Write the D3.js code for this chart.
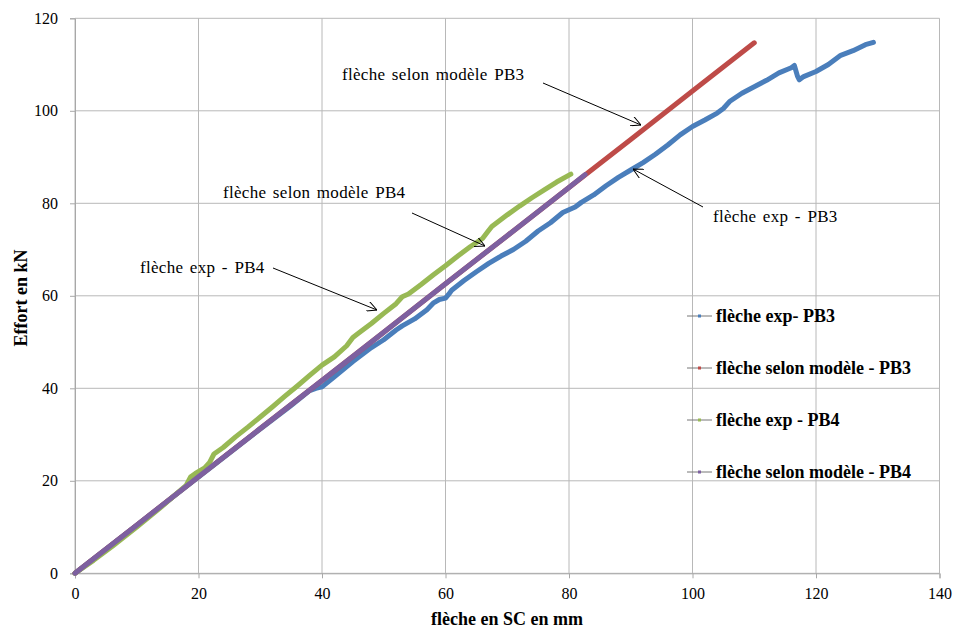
<!DOCTYPE html>
<html><head><meta charset="utf-8">
<script src="https://cdn.jsdelivr.net/npm/d3@7"></script>
<style>body{margin:0;background:#fff}svg{display:block}</style>
</head><body><svg id="c" width="954" height="629"></svg>
<script>
const xTicks=[0,20,40,60,80,100,120,140];
const yTicks=[0,20,40,60,80,100,120];
const seriesNames=["flèche exp- PB3","flèche selon modèle - PB3","flèche exp - PB4","flèche selon modèle - PB4"];
const seriesColors=["#4a7ebb","#be4b48","#98b954","#7d60a0"];
const expPB3=[[0,0],[5,5.2],[10,10.4],[15,15.6],[20,20.8],[25,26],[30,31.2],[35,36.3],[38,39.5],[39,40],[40,40.3],[42,42.5],[45,45.8],[48,48.8],[50,50.5],[52,52.6],[53,53.5],[55,55],[57,57],[58,58.4],[59,59.2],[60,59.5],[60.5,60.3],[61,61.2],[63,63.3],[65,65.2],[67,67],[69,68.6],[71,70],[73,71.8],[75,74],[77,75.8],[79,78],[81,79.2],[82,80.2],[84,81.8],[86,83.8],[88,85.6],[90,87.2],[92,88.8],[94,90.6],[96,92.6],[98,94.8],[100,96.6],[102,98],[104,99.5],[104.5,100],[105,100.5],[106,102],[108,103.8],[110,105.2],[112,106.6],[114,108.2],[116,109.3],[116.5,109.8],[117,107.5],[117.3,106.7],[118,107.4],[120,108.5],[122,110],[124,112],[126,113],[128,114.3],[129.3,114.8]];
const modelPB3=[[0,0],[10,10.4],[20,20.9],[30,31.3],[40,41.7],[50,52.1],[60,62.6],[70,73],[80,83.4],[90,93.8],[100,104.3],[110,114.7]];
const expPB4=[[0,0],[3,2.8],[6,5.8],[10,10],[14,14.4],[18,19],[18.7,20.8],[19.5,21.6],[21,22.8],[21.8,24],[22.5,25.8],[24,27.2],[26,29.5],[28,31.6],[30,33.8],[32,36],[34,38.3],[36,40.5],[38,42.8],[40,45],[42,46.8],[44,49.2],[45,51],[46,52],[48,54],[50,56.2],[52,58.3],[53,59.8],[54,60.4],[56,62.4],[58,64.5],[60,66.5],[62,68.6],[64,70.6],[66,72.4],[66.8,73.8],[67.5,75],[70,77.5],[72,79.4],[74,81.2],[76,82.9],[78,84.6],[80.3,86.3]];
const modelPB4=[[0,0],[10,10.4],[20,20.9],[30,31.3],[40,41.7],[50,52.1],[60,62.6],[70,73],[80,83.4],[82.6,86.2]];
const annotations=[
 {text:"flèche selon modèle PB3",tx:342,ty:80,from:[543,83],to:[641,125]},
 {text:"flèche exp - PB3",tx:713,ty:222,from:[703,207],to:[633,169]},
 {text:"flèche selon modèle PB4",tx:223,ty:198,from:[412,213],to:[485,246]},
 {text:"flèche exp - PB4",tx:140,ty:273,from:[273,268],to:[377,310]}
];
const svg=d3.select("#c");
const x=d3.scaleLinear().domain([0,140]).range([75,939.5]);
const y=d3.scaleLinear().domain([0,120]).range([573.3,18.3]);
const serif="'Liberation Serif','Times New Roman',serif";
const g=svg.append("g");
g.selectAll(".gx").data(xTicks).join("line").attr("x1",d=>x(d)).attr("x2",d=>x(d)).attr("y1",y(0)).attr("y2",y(120)).attr("stroke","#b8b8b8").attr("stroke-width",1);
g.selectAll(".gy").data(yTicks).join("line").attr("x1",x(0)).attr("x2",x(140)).attr("y1",d=>y(d)).attr("y2",d=>y(d)).attr("stroke","#b8b8b8").attr("stroke-width",1);
const xa=svg.append("g").attr("transform",`translate(0,${y(0)})`).call(d3.axisBottom(x).tickValues(xTicks).tickSize(5).tickPadding(9));
const ya=svg.append("g").attr("transform",`translate(${x(0)},0)`).call(d3.axisLeft(y).tickValues(yTicks).tickSize(5).tickPadding(12));
[xa,ya].forEach(a=>{a.attr("font-family",serif).attr("font-size",16);a.select(".domain").attr("stroke","#a8a8a8");a.selectAll(".tick line").attr("stroke","#a8a8a8");a.selectAll("text").attr("font-family",serif).attr("font-size",16).attr("fill","#000");});
const line=d3.line().x(d=>x(d[0])).y(d=>y(d[1]));
const data=[expPB3,modelPB3,expPB4,modelPB4];
data.forEach((s,i)=>{svg.append("path").attr("d",line(s)).attr("fill","none").attr("stroke",seriesColors[i]).attr("stroke-width",5).attr("stroke-linejoin","round").attr("stroke-linecap","round");});
svg.append("defs").append("marker").attr("id","ah").attr("viewBox","0 0 10 10").attr("refX",10).attr("refY",5).attr("markerWidth",10).attr("markerHeight",10).attr("markerUnits","userSpaceOnUse").attr("orient","auto")
 .append("path").attr("d","M0,0L10,5L0,10").attr("fill","none").attr("stroke","#000").attr("stroke-width",1);
annotations.forEach(a=>{
 svg.append("text").attr("x",a.tx).attr("y",a.ty).attr("font-family",serif).attr("font-size",17).attr("fill","#000").attr("word-spacing",2).attr("letter-spacing",0.3).text(a.text);
 svg.append("line").attr("x1",a.from[0]).attr("y1",a.from[1]).attr("x2",a.to[0]).attr("y2",a.to[1]).attr("stroke","#000").attr("stroke-width",1).attr("marker-end","url(#ah)");
});
const legY=[316,368,420,472];
seriesNames.forEach((n,i)=>{
 const lg=svg.append("g").attr("transform",`translate(0,${legY[i]})`);
 lg.append("line").attr("x1",687).attr("x2",712).attr("y1",0).attr("y2",0).attr("stroke","#777").attr("stroke-width",1);
 lg.append("rect").attr("x",698).attr("y",-1.5).attr("width",3).attr("height",3).attr("fill",seriesColors[i]);
 lg.append("text").attr("x",716).attr("y",6).attr("font-family",serif).attr("font-weight","bold").attr("font-size",18).attr("fill","#000").text(n);
});
svg.append("text").attr("x",507).attr("y",625).attr("text-anchor","middle").attr("font-family",serif).attr("font-weight","bold").attr("font-size",18).text("flèche en SC en mm");
svg.append("text").attr("transform","translate(27,298) rotate(-90)").attr("text-anchor","middle").attr("font-family",serif).attr("font-weight","bold").attr("font-size",18).text("Effort en kN");
</script></body></html>
